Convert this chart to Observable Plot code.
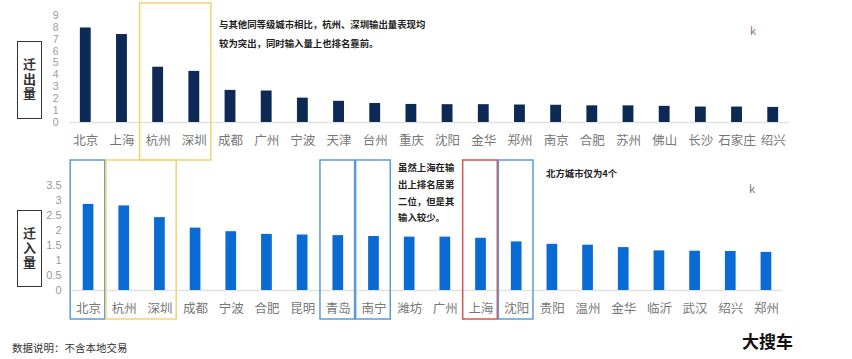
<!DOCTYPE html>
<html><head><meta charset="utf-8">
<script src="https://cdn.jsdelivr.net/npm/d3@7"></script>
<script src="https://cdn.jsdelivr.net/npm/@observablehq/plot@0.6"></script>
<style>
body{margin:0;background:#fff;font-family:"Noto Sans CJK SC","Noto Sans",sans-serif;}
#wrap{position:relative;width:852px;height:359px;overflow:hidden;background:#fff}
#wrap svg{position:absolute;left:0;background:transparent}
.abs{position:absolute;white-space:nowrap;font-family:"Noto Sans CJK SC",sans-serif}
.note{font-size:9.4px;font-weight:bold;color:#222;line-height:17px}
.k{font-size:11px;color:#777}
.vbox{position:absolute;border:1.5px solid #333;box-sizing:border-box;display:flex;align-items:center;justify-content:center}
.vbox span{writing-mode:vertical-rl;text-orientation:upright;font-size:13px;font-weight:bold;color:#333;letter-spacing:1.5px;line-height:1}
g[aria-label="y-axis tick label"] text{fill:#9a9a9a}
g[aria-label="x-axis tick label"] text{fill:#777}
</style></head><body><div id="wrap"></div>
<script>
// ---- data ----
const outCities = ["北京","上海","杭州","深圳","成都","广州","宁波","天津","台州","重庆","沈阳","金华","郑州","南京","合肥","苏州","佛山","长沙","石家庄","绍兴"];
const outValues = [7.95,7.4,4.65,4.3,2.7,2.65,2.05,1.78,1.6,1.52,1.5,1.5,1.47,1.45,1.4,1.4,1.36,1.3,1.3,1.27];
const outTicks = [0,1,2,3,4,5,6,7,8,9];

const inCities = ["北京","杭州","深圳","成都","宁波","合肥","昆明","青岛","南宁","潍坊","广州","上海","沈阳","贵阳","温州","金华","临沂","武汉","绍兴","郑州"];
const inValues = [2.87,2.82,2.43,2.08,1.96,1.87,1.85,1.83,1.8,1.78,1.78,1.74,1.62,1.54,1.51,1.43,1.32,1.31,1.3,1.27];
const inTicks = [0,0.5,1,1.5,2,2.5,3,3.5];

const outBoxFrom = ["杭州"], outBoxTo = ["深圳"], outBoxColor = ["#f2d46e"];
const inBoxFrom = ["北京","杭州","青岛","南宁","上海","沈阳"];
const inBoxTo   = ["北京","深圳","青岛","南宁","上海","沈阳"];
const inBoxColor = ["#5b9bd5","#f2d46e","#5b9bd5","#5b9bd5","#d9534f","#5b9bd5"];

const noteOut = ["与其他同等级城市相比，杭州、深圳输出量表现均","较为突出，同时输入量上也排名靠前。"];
const noteShanghai = ["虽然上海在输","出上排名居第","二位，但是其","输入较少。"];
const noteNorth = "北方城市仅为4个";
const sideOut = "迁出量";
const sideIn = "迁入量";
const footnote = "数据说明：不含本地交易";
const brand = "大搜车";

const wrap = document.getElementById("wrap");

function chart({cities, values, ticks, yDomain, color, top, height, mL, mR, mT, mB, tickPad, tickFont, boxFrom, boxTo, boxColor, boxY1, boxY2}) {
  const data = cities.map((c, i) => ({city: c, value: values[i]}));
  const p = Plot.plot({
    width: 852, height, marginLeft: mL, marginRight: mR, marginTop: mT, marginBottom: mB,
    style: {fontFamily: '"Noto Sans CJK SC", sans-serif', background: "transparent", overflow: "visible"},
    x: {domain: cities, paddingInner: 0.7, paddingOuter: 0.3, round: false},
    y: {domain: yDomain},
    marks: [
      Plot.ruleY([0], {stroke: "#e2e2e2", strokeWidth: 1.5}),
      Plot.barY(data, {x: "city", y: "value", fill: color}),
      Plot.axisX({tickSize: 0, tickPadding: 14, fontSize: 12.5, label: null}),
      Plot.axisY({ticks, tickFormat: d => String(d), tickSize: 0, tickPadding: tickPad, fontSize: tickFont, label: null, fontFamily: '"Liberation Sans", sans-serif'})
    ]
  });
  p.style.top = top + "px";
  const x = p.scale("x");
  const bw = x.bandwidth, step = x.step;
  const svg = d3.select(p);
  boxFrom.forEach((f, i) => {
    const left = x.apply(f) + bw / 2 - 0.5 * step;
    const right = x.apply(boxTo[i]) + bw / 2 + 0.47 * step;
    svg.append("rect").attr("x", left).attr("y", boxY1).attr("width", right - left).attr("height", boxY2 - boxY1)
      .attr("fill", "none").attr("stroke", boxColor[i]).attr("stroke-width", 1.5);
  });
  wrap.appendChild(p);
}

chart({cities: outCities, values: outValues, ticks: outTicks, yDomain: [0, 9], color: "#0c2a55",
  top: 0, height: 160, mL: 69, mR: 63, mT: 15, mB: 38, tickPad: 11, tickFont: 10.5,
  boxFrom: outBoxFrom, boxTo: outBoxTo, boxColor: outBoxColor, boxY1: 3, boxY2: 160});

chart({cities: inCities, values: inValues, ticks: inTicks, yDomain: [0, 3.5], color: "#0a6bd4",
  top: 158, height: 172, mL: 72, mR: 70, mT: 27, mB: 40, tickPad: 11, tickFont: 11,
  boxFrom: inBoxFrom, boxTo: inBoxTo, boxColor: inBoxColor, boxY1: 2, boxY2: 161});

function addDiv(cls, html, css) {
  const d = document.createElement("div");
  d.className = cls; d.innerHTML = html; Object.assign(d.style, css); wrap.appendChild(d); return d;
}
addDiv("abs note", noteOut.join("<br>"), {left: "219px", top: "15px", lineHeight: "18.5px"});
addDiv("abs note", noteShanghai.join("<br>"), {left: "398px", top: "159px", lineHeight: "16.8px"});
addDiv("abs note", noteNorth, {left: "546px", top: "165px"});
addDiv("abs k", "k", {left: "750px", top: "22px"});
addDiv("abs k", "k", {left: "749px", top: "180px"});
addDiv("vbox", "<span>" + sideOut + "</span>", {left: "17px", top: "41px", width: "25px", height: "78px"});
addDiv("vbox", "<span>" + sideIn + "</span>", {left: "17px", top: "210px", width: "25px", height: "77px"});
addDiv("abs", footnote, {left: "12px", top: "340px", fontSize: "10.5px", color: "#333"});
addDiv("abs", brand, {left: "742px", top: "328px", fontSize: "17px", fontWeight: "bold", color: "#111"});
</script></body></html>
